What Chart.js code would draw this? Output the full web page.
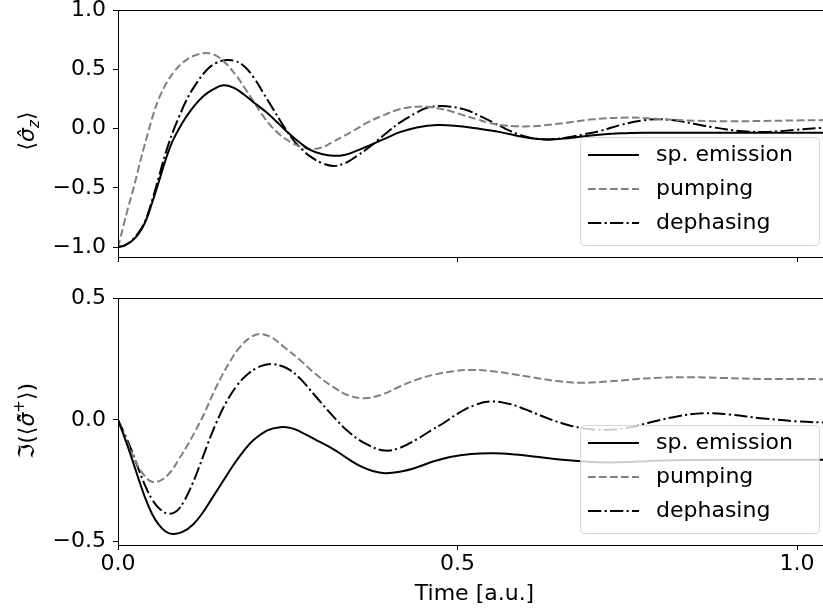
<!DOCTYPE html>
<html>
<head>
<meta charset="utf-8">
<script src="https://cdn.jsdelivr.net/npm/chart.js@4.4.0/dist/chart.umd.min.js"></script>
<style>
  html, body { margin: 0; padding: 0; overflow: hidden; background: #fff; }
  #wrap { position: relative; width: 823px; height: 612px; overflow: hidden; }
  canvas { position: absolute; left: 0; }
  #topChart { top: 0; }
  #bottomChart { top: 270px; }
</style>
</head>
<body>
<div id="wrap">
  <canvas id="topChart" width="835" height="270"></canvas>
  <canvas id="bottomChart" width="835" height="342"></canvas>
</div>
<script>
// series labels and tick positions
const seriesNames = ['sp. emission', 'pumping', 'dephasing'];
const xTicks = [0.0, 0.5, 1.0];
const topYTicks = [-1.0, -0.5, 0.0, 0.5, 1.0];
const bottomYTicks = [-0.5, 0.0, 0.5];

// upper panel: <sigma_z>
const topEmissionT = [0, 0.01, 0.02, 0.03, 0.04, 0.05, 0.06, 0.07, 0.08, 0.09, 0.1, 0.112, 0.126, 0.14, 0.155, 0.17, 0.185, 0.2, 0.219, 0.236, 0.253, 0.268, 0.283, 0.3, 0.317, 0.335, 0.35, 0.365, 0.379, 0.395, 0.415, 0.44, 0.47, 0.5, 0.53, 0.563, 0.595, 0.626, 0.65, 0.7, 0.74, 0.774, 0.85, 0.95, 1.05];
const topEmissionV = [-1.0, -0.985, -0.95, -0.89, -0.79, -0.63, -0.45, -0.265, -0.11, 0.0, 0.095, 0.19, 0.275, 0.33, 0.365, 0.345, 0.29, 0.22, 0.135, 0.045, -0.048, -0.12, -0.18, -0.215, -0.23, -0.22, -0.19, -0.155, -0.12, -0.08, -0.03, 0.01, 0.03, 0.022, 0.0, -0.03, -0.068, -0.09, -0.088, -0.057, -0.04, -0.035, -0.035, -0.035, -0.035];

const topPumpingT = [0, 0.008, 0.015, 0.023, 0.03, 0.037, 0.045, 0.052, 0.06, 0.072, 0.084, 0.096, 0.11, 0.126, 0.138, 0.15, 0.162, 0.175, 0.188, 0.2, 0.212, 0.224, 0.238, 0.253, 0.268, 0.285, 0.3, 0.317, 0.33, 0.342, 0.355, 0.367, 0.39, 0.41, 0.425, 0.44, 0.455, 0.47, 0.489, 0.51, 0.529, 0.545, 0.563, 0.585, 0.61, 0.635, 0.661, 0.7, 0.75, 0.8, 0.85, 0.9, 0.95, 1.0, 1.05];
const topPumpingV = [-1.0, -0.82, -0.665, -0.5, -0.34, -0.185, -0.02, 0.12, 0.25, 0.39, 0.49, 0.56, 0.61, 0.635, 0.63, 0.595, 0.53, 0.44, 0.33, 0.225, 0.12, 0.03, -0.05, -0.11, -0.15, -0.172, -0.16, -0.11, -0.07, -0.034, 0.01, 0.05, 0.11, 0.155, 0.175, 0.185, 0.185, 0.172, 0.148, 0.11, 0.078, 0.05, 0.03, 0.02, 0.02, 0.032, 0.05, 0.078, 0.093, 0.08, 0.066, 0.062, 0.064, 0.069, 0.072];

const topDephasingT = [0, 0.01, 0.02, 0.03, 0.04, 0.05, 0.06, 0.07, 0.08, 0.09, 0.1, 0.113, 0.13, 0.145, 0.16, 0.172, 0.185, 0.2, 0.214, 0.229, 0.244, 0.26, 0.272, 0.283, 0.3, 0.317, 0.335, 0.352, 0.367, 0.381, 0.398, 0.415, 0.44, 0.455, 0.474, 0.49, 0.514, 0.535, 0.553, 0.57, 0.588, 0.605, 0.622, 0.64, 0.661, 0.685, 0.71, 0.74, 0.774, 0.8, 0.825, 0.85, 0.875, 0.897, 0.92, 0.946, 0.97, 0.995, 1.05];
const topDephasingV = [-1.0, -0.985, -0.945, -0.88, -0.78, -0.61, -0.41, -0.21, -0.04, 0.1, 0.23, 0.36, 0.49, 0.555, 0.578, 0.57, 0.53, 0.43, 0.3, 0.16, 0.02, -0.11, -0.18, -0.235, -0.29, -0.315, -0.29, -0.23, -0.17, -0.105, -0.025, 0.05, 0.135, 0.175, 0.19, 0.185, 0.155, 0.1, 0.05, 0.0, -0.045, -0.075, -0.09, -0.09, -0.076, -0.05, -0.02, 0.03, 0.07, 0.078, 0.065, 0.038, 0.012, -0.008, -0.022, -0.029, -0.024, -0.012, 0.012];

// lower panel: Im(<sigma^+>)
const bottomEmissionT = [0, 0.01, 0.02, 0.03, 0.04, 0.05, 0.06, 0.07, 0.081, 0.095, 0.111, 0.125, 0.14, 0.155, 0.17, 0.185, 0.2, 0.22, 0.239, 0.255, 0.268, 0.29, 0.317, 0.34, 0.357, 0.375, 0.393, 0.415, 0.44, 0.465, 0.489, 0.52, 0.553, 0.585, 0.612, 0.65, 0.686, 0.725, 0.76, 0.8, 0.9, 1.05];
const bottomEmissionV = [0, -0.075, -0.155, -0.24, -0.32, -0.385, -0.43, -0.458, -0.468, -0.46, -0.428, -0.38, -0.315, -0.25, -0.185, -0.128, -0.082, -0.043, -0.03, -0.034, -0.048, -0.08, -0.12, -0.162, -0.19, -0.21, -0.219, -0.213, -0.195, -0.17, -0.152, -0.14, -0.137, -0.142, -0.15, -0.163, -0.171, -0.175, -0.172, -0.167, -0.164, -0.164];

const bottomPumpingT = [0, 0.0125, 0.025, 0.037, 0.05, 0.063, 0.077, 0.09, 0.101, 0.114, 0.126, 0.138, 0.15, 0.165, 0.18, 0.195, 0.209, 0.225, 0.244, 0.268, 0.29, 0.317, 0.34, 0.364, 0.39, 0.415, 0.44, 0.465, 0.495, 0.523, 0.555, 0.587, 0.62, 0.65, 0.68, 0.71, 0.75, 0.79, 0.838, 0.89, 0.946, 1.05];
const bottomPumpingV = [0, -0.085, -0.165, -0.222, -0.254, -0.248, -0.215, -0.16, -0.11, -0.045, 0.02, 0.095, 0.165, 0.24, 0.3, 0.338, 0.352, 0.34, 0.3, 0.246, 0.19, 0.135, 0.1, 0.089, 0.105, 0.137, 0.165, 0.185, 0.2, 0.205, 0.198, 0.185, 0.17, 0.158, 0.152, 0.155, 0.164, 0.172, 0.175, 0.172, 0.168, 0.167];

const bottomDephasingT = [0, 0.01, 0.02, 0.03, 0.04, 0.05, 0.06, 0.074, 0.086, 0.098, 0.11, 0.12, 0.132, 0.145, 0.16, 0.175, 0.19, 0.204, 0.217, 0.229, 0.242, 0.253, 0.268, 0.29, 0.317, 0.34, 0.366, 0.393, 0.415, 0.44, 0.46, 0.479, 0.5, 0.525, 0.548, 0.575, 0.6, 0.625, 0.655, 0.685, 0.72, 0.755, 0.789, 0.825, 0.862, 0.9, 0.946, 1.0, 1.05];
const bottomDephasingV = [0, -0.06, -0.125, -0.2, -0.27, -0.325, -0.362, -0.385, -0.375, -0.33, -0.26, -0.19, -0.1, -0.01, 0.075, 0.14, 0.185, 0.212, 0.226, 0.229, 0.22, 0.205, 0.17, 0.1, 0.014, -0.05, -0.1, -0.126, -0.115, -0.08, -0.045, -0.014, 0.025, 0.06, 0.075, 0.066, 0.043, 0.015, -0.015, -0.034, -0.041, -0.03, -0.007, 0.015, 0.027, 0.022, 0.007, -0.006, -0.012];

const FONT = '"DejaVu Sans", sans-serif';
const tickFont = { family: FONT, size: 22, lineHeight: 1.2 };

// line looks: solid black, dashed grey, dash-dot black
const lineStyles = [
    { color: '#000000', dash: [] },
    { color: '#808080', dash: [7.7, 3.3] },
    { color: '#000000', dash: [13.3, 3.3, 2.1, 3.3] }
];

function buildDatasets(times, values) {
    return times.map((t, i) => ({
        label: seriesNames[i],
        data: t.map((x, j) => ({ x: x, y: values[i][j] })),
        borderColor: lineStyles[i].color,
        borderDash: lineStyles[i].dash,
        borderWidth: 2,
        pointRadius: 0,
        pointHitRadius: 0,
        tension: 0.4,
        fill: false
    }));
}

function fmt(v) {
    const s = Math.abs(v).toFixed(1);
    return v < -1e-9 ? '\u2212' + s : s;
}

function noPad(scale) {
    scale.paddingLeft = 0;
    scale.paddingRight = 0;
    scale.paddingTop = 0;
    scale.paddingBottom = 0;
}

// frame around the axes (the right edge falls outside the window)
const framePlugin = {
    id: 'frame',
    afterDraw(chart) {
        const { ctx, chartArea: a } = chart;
        ctx.save();
        ctx.strokeStyle = '#000';
        ctx.lineWidth = 1;
        const l = Math.floor(a.left) + 0.5, t = Math.floor(a.top) + 0.5;
        const r = Math.floor(a.right) + 0.5, b = Math.floor(a.bottom) + 0.5;
        ctx.strokeRect(l, t, r - l, b - t);
        ctx.restore();
    }
};

// matplotlib-like legend in the lower right corner
const legendPlugin = {
    id: 'boxLegend',
    afterDatasetsDraw(chart) {
        const { ctx, chartArea: a } = chart;
        const w = 239, h = 108, pad = 12;
        const bx = Math.round(a.right - pad - w), by = Math.round(a.bottom - pad - h);
        ctx.save();
        ctx.beginPath();
        ctx.roundRect(bx + 0.5, by + 0.5, w, h, 4);
        ctx.fillStyle = 'rgba(255,255,255,0.8)';
        ctx.fill();
        ctx.strokeStyle = 'rgba(204,204,204,0.8)';
        ctx.lineWidth = 1;
        ctx.stroke();
        chart.data.datasets.forEach((ds, i) => {
            const y = by + 18 + i * 34;
            ctx.beginPath();
            ctx.setLineDash(ds.borderDash);
            ctx.strokeStyle = ds.borderColor;
            ctx.lineWidth = ds.borderWidth;
            ctx.moveTo(bx + 8, y);
            ctx.lineTo(bx + 59, y);
            ctx.stroke();
            ctx.setLineDash([]);
            ctx.fillStyle = '#000';
            ctx.font = '22px ' + FONT;
            ctx.textBaseline = 'middle';
            ctx.textAlign = 'left';
            ctx.fillText(ds.label, bx + 76, y);
        });
        ctx.restore();
    }
};

// rotated y label with sub/superscripts
const yTitlePlugin = {
    id: 'yTitle',
    afterDraw(chart, args, opts) {
        const ctx = chart.ctx;
        ctx.save();
        ctx.translate(opts.x, opts.y);
        ctx.rotate(-Math.PI / 2);
        ctx.fillStyle = '#000';
        ctx.textBaseline = 'alphabetic';
        ctx.textAlign = 'left';
        let total = 0;
        opts.parts.forEach(p => { ctx.font = p.font; total += ctx.measureText(p.text).width; });
        let cx = -total / 2;
        opts.parts.forEach(p => {
            ctx.font = p.font;
            ctx.fillText(p.text, cx, 8 + (p.dy || 0));
            cx += ctx.measureText(p.text).width;
        });
        ctx.restore();
    }
};

function makeOptions(yMin, yMax, yTicks, isBottom, titleParts, titleY) {
    const gridOpts = { display: true, drawOnChartArea: false, drawTicks: true, tickLength: 5, color: '#000', lineWidth: 1 };
    return {
        responsive: false,
        animation: false,
        devicePixelRatio: 1,
        events: [],
        layout: { padding: { left: 0, right: 4, top: isBottom ? 28 : 10, bottom: 0 } },
        plugins: {
            legend: { display: false },
            tooltip: { enabled: false },
            yTitle: { x: 26, y: titleY, parts: titleParts }
        },
        scales: {
            x: {
                type: 'linear',
                min: 0,
                max: 1.05,
                afterBuildTicks: s => { s.ticks = xTicks.map(v => ({ value: v })); },
                afterFit: s => { s.height = isBottom ? 67 : 13; noPad(s); },
                ticks: { display: isBottom, font: tickFont, color: '#000', padding: 1, maxRotation: 0, callback: fmt },
                grid: gridOpts,
                border: { display: false },
                title: {
                    display: isBottom,
                    text: 'Time [a.u.]',
                    color: '#000',
                    font: { family: FONT, size: 22, lineHeight: 1.2 },
                    padding: { top: 0, bottom: 5 }
                }
            },
            y: {
                type: 'linear',
                min: yMin,
                max: yMax,
                afterBuildTicks: s => { s.ticks = yTicks.map(v => ({ value: v })); },
                afterFit: s => { s.width = 118; noPad(s); },
                ticks: { font: tickFont, color: '#000', padding: 7, callback: fmt },
                grid: gridOpts,
                border: { display: false }
            }
        }
    };
}

const italic = 'italic 22px ' + FONT;
const upright = '22px ' + FONT;
const small = 'italic 15px ' + FONT;

new Chart(document.getElementById('topChart'), {
    type: 'line',
    data: {
        datasets: buildDatasets(
            [topEmissionT, topPumpingT, topDephasingT],
            [topEmissionV, topPumpingV, topDephasingV])
    },
    options: makeOptions(-1.083, 1.0, topYTicks, false, [
        { text: '\u27E8', font: upright },
        { text: '\u03C3\u0302', font: italic },
        { text: 'z', font: small, dy: 5 },
        { text: '\u27E9', font: upright }
    ], 131),
    plugins: [legendPlugin, framePlugin, yTitlePlugin]
});

new Chart(document.getElementById('bottomChart'), {
    type: 'line',
    data: {
        datasets: buildDatasets(
            [bottomEmissionT, bottomPumpingT, bottomDephasingT],
            [bottomEmissionV, bottomPumpingV, bottomDephasingV])
    },
    options: makeOptions(-0.5135, 0.5, bottomYTicks, true, [
        { text: '\u2111(\u27E8', font: upright },
        { text: '\u03C3\u0303\u0302', font: italic },
        { text: '+', font: '15px ' + FONT, dy: -10 },
        { text: '\u27E9)', font: upright }
    ], 151),
    plugins: [legendPlugin, framePlugin, yTitlePlugin]
});
</script>
</body>
</html>
